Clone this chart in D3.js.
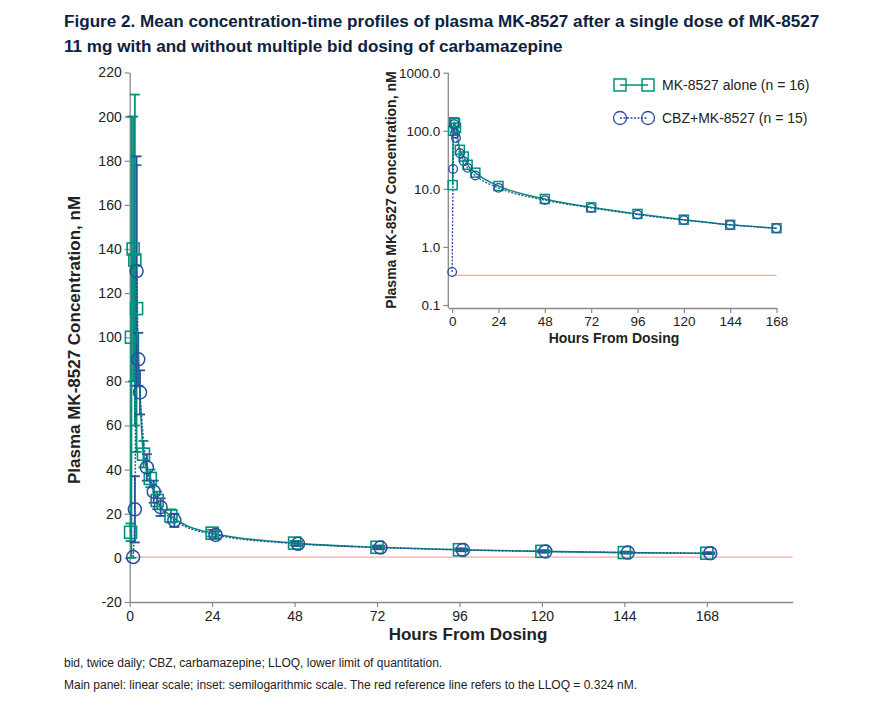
<!DOCTYPE html>
<html>
<head>
<meta charset="utf-8">
<script src="https://cdn.jsdelivr.net/npm/d3@7/dist/d3.min.js"></script>
<style>
  body { margin: 0; background: #fff; }
  svg { font-family: "Liberation Sans", Arial, sans-serif; }
  .tick text { fill: #222; }
</style>
</head>
<body>
<svg id="chart" width="877" height="709"></svg>
<script>
// Data
const timesAlone = [0.25, 0.5, 1, 1.5, 2, 4, 6, 8, 12, 24, 48, 72, 96, 120, 144, 168];
const meanAlone = [11.6, 100, 140, 135, 113, 47, 36, 26, 19, 11.2, 6.7, 4.8, 3.7, 2.95, 2.4, 2.1];
const sdAlone = [4, 100, 60, 75, 65, 6, 4, 4, 3, 1.5, 1, 0.8, 0.6, 0.5, 0.4, 0.4];

const timesCbz = [0, 0.5, 1, 1.5, 2, 4, 6, 8, 12, 24, 48, 72, 96, 120, 144, 168];
const meanCbz = [0.37, 22, 130, 90, 75, 41, 30, 23, 17, 10.4, 6.4, 4.7, 3.6, 2.9, 2.4, 2.1];
const sdCbz = [0, 15, 52, 12, 10, 6, 5, 4, 3, 1.5, 1, 0.8, 0.6, 0.5, 0.4, 0.4];

const mainYTicks = [-20, 0, 20, 40, 60, 80, 100, 120, 140, 160, 180, 200, 220];
const hourTicks = [0, 24, 48, 72, 96, 120, 144, 168];
const logTicks = [0.1, 1, 10, 100, 1000];
const lloq = 0.324;

const seriesNames = ["MK-8527 alone (n = 16)", "CBZ+MK-8527 (n = 15)"];

const green = "#00917c";
const blue = "#2a4d9c";
const axisGray = "#8a8a8a";
const refRed = "#f5aaaa";

const svg = d3.select("#chart");

const alone = timesAlone.map((t, i) => ({ t, v: meanAlone[i], sd: sdAlone[i] }));
const cbz = timesCbz.map((t, i) => ({ t, v: meanCbz[i], sd: sdCbz[i] }));

// Title + footnotes
const title = svg.append("g").attr("fill", "#0d2240").attr("font-weight", "bold").attr("font-size", 17.1);
title.append("text").attr("x", 64).attr("y", 27)
  .text("Figure 2. Mean concentration-time profiles of plasma MK-8527 after a single dose of MK-8527");
title.append("text").attr("x", 64).attr("y", 52)
  .text("11 mg with and without multiple bid dosing of carbamazepine");

svg.append("text").attr("x", 64).attr("y", 667).attr("font-size", 12).attr("fill", "#222")
  .text("bid, twice daily; CBZ, carbamazepine; LLOQ, lower limit of quantitation.");
svg.append("text").attr("x", 64).attr("y", 689).attr("font-size", 12).attr("fill", "#222")
  .text("Main panel: linear scale; inset: semilogarithmic scale. The red reference line refers to the LLOQ = 0.324 nM.");

function styleAxis(g) {
  g.selectAll(".domain").attr("stroke", axisGray).attr("stroke-width", 1.3);
  g.selectAll(".tick line").attr("stroke", axisGray).attr("stroke-width", 1.2);
}

// ---------- Main panel (linear) ----------
const x = d3.scaleLinear().domain([0, 193]).range([129.7, 792.7]);
const y = d3.scaleLinear().domain([-20, 220]).range([602, 72.5]);
const cbzShift = 1; // circles drawn slightly right in main panel

const main = svg.append("g");

main.append("g").attr("transform", "translate(0,602)")
  .call(d3.axisBottom(x).tickValues(hourTicks).tickSize(5).tickPadding(4).tickSizeOuter(0))
  .call(styleAxis)
  .call(g => g.selectAll("text").attr("font-size", 14));

main.append("g").attr("transform", "translate(129.7,0)")
  .call(d3.axisLeft(y).tickValues(mainYTicks).tickFormat(d => String(d)).tickSize(5).tickPadding(3).tickSizeOuter(0))
  .call(styleAxis)
  .call(g => g.selectAll("text").attr("font-size", 14));

main.append("line")
  .attr("x1", x(0)).attr("x2", x(193)).attr("y1", y(lloq)).attr("y2", y(lloq))
  .attr("stroke", refRed).attr("stroke-width", 1.2);

main.append("text").attr("x", 468).attr("y", 640).attr("text-anchor", "middle")
  .attr("font-size", 17).attr("font-weight", "bold").attr("fill", "#222")
  .text("Hours From Dosing");
main.append("text").attr("transform", "translate(80,340) rotate(-90)").attr("text-anchor", "middle")
  .attr("font-size", 17).attr("font-weight", "bold").attr("fill", "#222")
  .text("Plasma MK-8527 Concentration, nM");

function drawErrors(g, data, xf, color) {
  const eb = g.append("g").attr("stroke", color).attr("stroke-width", 1.8).attr("fill", "none");
  data.filter(d => d.sd > 0).forEach(d => {
    const cx = xf(d);
    eb.append("line").attr("x1", cx).attr("x2", cx).attr("y1", y(d.v - d.sd)).attr("y2", y(d.v + d.sd));
    [d.v - d.sd, d.v + d.sd].forEach(v => {
      eb.append("line").attr("x1", cx - 5).attr("x2", cx + 5).attr("y1", y(v)).attr("y2", y(v));
    });
  });
}

const xA = d => x(d.t);
const xC = d => x(d.t + cbzShift);

drawErrors(main, alone, xA, green);
drawErrors(main, cbz, xC, blue);

const lineMain = (xf) => d3.line().x(xf).y(d => y(d.v)).curve(d3.curveMonotoneX);

main.append("path").datum(alone).attr("d", lineMain(xA))
  .attr("fill", "none").attr("stroke", green).attr("stroke-width", 1.6);
main.append("path").datum(cbz).attr("d", lineMain(xC))
  .attr("fill", "none").attr("stroke", blue).attr("stroke-width", 1.4).attr("stroke-dasharray", "2,1.5");

main.append("g").selectAll("rect").data(alone).join("rect")
  .attr("x", d => xA(d) - 6).attr("y", d => y(d.v) - 6).attr("width", 12).attr("height", 12)
  .attr("fill", "none").attr("stroke", green).attr("stroke-width", 1.6);
main.append("g").selectAll("circle").data(cbz).join("circle")
  .attr("cx", xC).attr("cy", d => y(d.v)).attr("r", 6.5)
  .attr("fill", "none").attr("stroke", blue).attr("stroke-width", 1.5);

// ---------- Inset (semi-log) ----------
const xi = d3.scaleLinear().domain([-2, 168]).range([448.3, 776.5]);
const yi = d3.scaleLog().domain([0.1, 1000]).range([305, 72.7]);

const inset = svg.append("g");

inset.append("g").attr("transform", "translate(0,308)")
  .call(d3.axisBottom(xi).tickValues(hourTicks).tickSize(5).tickPadding(3).tickSizeOuter(0))
  .call(styleAxis)
  .call(g => g.selectAll("text").attr("font-size", 13.5));

inset.append("g").attr("transform", "translate(448.3,0)")
  .call(d3.axisLeft(yi).tickValues(logTicks).tickFormat(d3.format(".1f")).tickSize(5).tickPadding(3).tickSizeOuter(0))
  .call(styleAxis)
  .call(g => g.select(".domain").attr("d", "M-0,72.7V308"))
  .call(g => g.selectAll("text").attr("font-size", 13.5));

inset.append("line")
  .attr("x1", xi(0)).attr("x2", xi(168)).attr("y1", yi(lloq)).attr("y2", yi(lloq))
  .attr("stroke", refRed).attr("stroke-width", 1.2);

inset.append("text").attr("x", 614).attr("y", 343).attr("text-anchor", "middle")
  .attr("font-size", 14).attr("font-weight", "bold").attr("fill", "#222")
  .text("Hours From Dosing");
inset.append("text").attr("transform", "translate(396,190) rotate(-90)").attr("text-anchor", "middle")
  .attr("font-size", 14).attr("font-weight", "bold").attr("fill", "#222")
  .text("Plasma MK-8527 Concentration, nM");

const lineInset = d3.line().x(d => xi(d.t)).y(d => yi(d.v)).curve(d3.curveMonotoneX);

inset.append("path").datum(alone).attr("d", lineInset)
  .attr("fill", "none").attr("stroke", green).attr("stroke-width", 1.5);
inset.append("path").datum(cbz).attr("d", lineInset)
  .attr("fill", "none").attr("stroke", blue).attr("stroke-width", 1.3).attr("stroke-dasharray", "2,1.5");

inset.append("g").selectAll("rect").data(alone).join("rect")
  .attr("x", d => xi(d.t) - 4.5).attr("y", d => yi(d.v) - 4.5).attr("width", 9).attr("height", 9)
  .attr("fill", "none").attr("stroke", green).attr("stroke-width", 1.5);
inset.append("g").selectAll("circle").data(cbz).join("circle")
  .attr("cx", d => xi(d.t)).attr("cy", d => yi(d.v)).attr("r", 4.3)
  .attr("fill", "none").attr("stroke", blue).attr("stroke-width", 1.3);

// ---------- Legend ----------
const legend = svg.append("g");
const legY = [85, 118];
seriesNames.forEach((name, i) => {
  const g = legend.append("g").attr("transform", `translate(0,${legY[i]})`);
  const color = i === 0 ? green : blue;
  g.append("line").attr("x1", 620).attr("x2", 648).attr("y1", 0).attr("y2", 0)
    .attr("stroke", color).attr("stroke-width", i === 0 ? 1.5 : 1.3)
    .attr("stroke-dasharray", i === 0 ? null : "2,1.5");
  [620, 648].forEach(cx => {
    if (i === 0) {
      g.append("rect").attr("x", cx - 6).attr("y", -6).attr("width", 12).attr("height", 12)
        .attr("fill", "none").attr("stroke", color).attr("stroke-width", 1.5);
    } else {
      g.append("circle").attr("cx", cx).attr("cy", 0).attr("r", 6.5)
        .attr("fill", "none").attr("stroke", color).attr("stroke-width", 1.3);
    }
  });
  g.append("text").attr("x", 662).attr("y", 5).attr("font-size", 14).attr("fill", "#222").text(name);
});
</script>
</body>
</html>
